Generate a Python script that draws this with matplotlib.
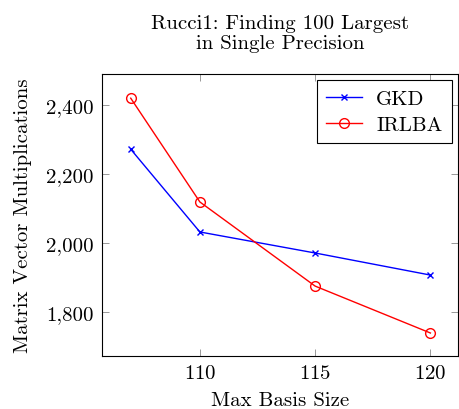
import matplotlib
matplotlib.use("Agg")
import matplotlib.pyplot as plt
from matplotlib.ticker import FuncFormatter

plt.rcParams['font.family'] = 'serif'
plt.rcParams['font.serif'] = ['cmr10']
plt.rcParams['mathtext.fontset'] = 'cm'
plt.rcParams['axes.formatter.use_mathtext'] = True

basis_size = [107, 110, 115, 120]
gkd = [2272, 2032, 1971, 1907]
irlba = [2420, 2119, 1875, 1739]

fig = plt.figure(figsize=(4.59, 4.10), dpi=100)
ax = fig.add_axes([0.222, 0.129, 0.776, 0.688])

ax.plot(basis_size, gkd, color='blue', marker='x', markersize=5, lw=1, label='GKD')
ax.plot(basis_size, irlba, color='red', marker='o', markersize=7, lw=1,
        markerfacecolor='none', label='IRLBA')

ax.set_xlim(105.75, 121.2)
ax.set_ylim(1672, 2490)
ax.set_xticks([110, 115, 120])
ax.set_yticks([1800, 2000, 2200, 2400])
ax.yaxis.set_major_formatter(FuncFormatter(lambda v, p: '{:,.0f}'.format(v)))
ax.tick_params(direction='in', top=True, right=True, labelsize=15, length=5,
               width=0.6, color='#888888', pad=6)
for s in ax.spines.values():
    s.set_linewidth(0.8)

ax.set_xlabel('Max Basis Size', fontsize=15, labelpad=6)
ax.set_ylabel('Matrix Vector Multiplications', fontsize=15, labelpad=10)
ax.set_title('Rucci1: Finding 100 Largest\nin Single Precision', fontsize=15,
             pad=19, linespacing=1.15)

leg = ax.legend(loc='upper right', fontsize=15, fancybox=False, framealpha=1,
                edgecolor='black', borderaxespad=0.3, handlelength=1.7,
                borderpad=0.45, labelspacing=0.35, handletextpad=0.7)
leg.get_frame().set_linewidth(0.8)

fig.savefig('out.png', dpi=100)
